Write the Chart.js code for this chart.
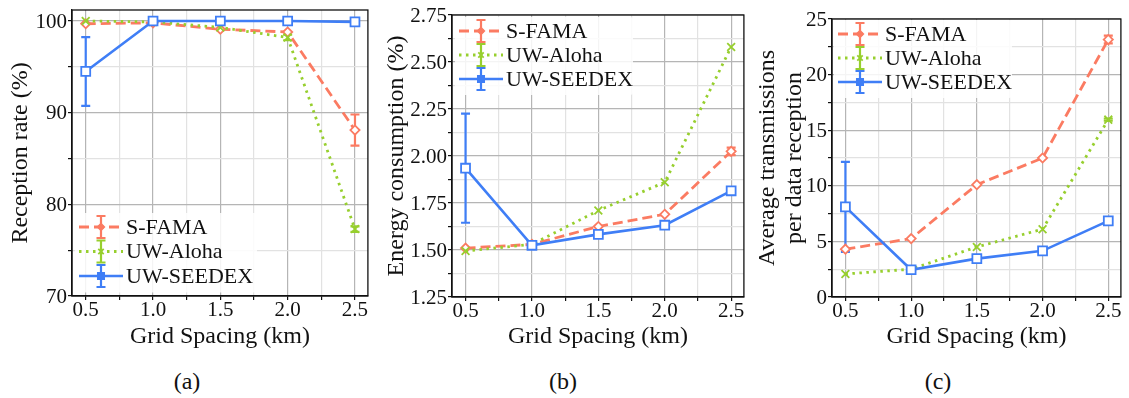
<!DOCTYPE html>
<html>
<head>
<meta charset="utf-8">
<script src="https://cdn.jsdelivr.net/npm/chart.js@4.4.1/dist/chart.umd.min.js"></script>
<style>
  html, body { margin: 0; padding: 0; background: #fff; }
  body { width: 1129px; height: 398px; position: relative; overflow: hidden; font-family: "Liberation Serif", serif; }
  .panel { position: absolute; top: 0; }
  .cap { position: absolute; top: 368px; font-size: 24px; color: #111; transform: translateX(-50%); }
</style>
</head>
<body>
<div class="panel" style="left:0"><canvas id="chartA" width="376" height="360"></canvas></div>
<div class="panel" style="left:376px"><canvas id="chartB" width="376" height="360"></canvas></div>
<div class="panel" style="left:752px"><canvas id="chartC" width="377" height="360"></canvas></div>
<div class="cap" style="left:187px">(a)</div>
<div class="cap" style="left:563px">(b)</div>
<div class="cap" style="left:938px">(c)</div>
<script>
// ---------- data ----------
const gridSpacing = [0.5, 1.0, 1.5, 2.0, 2.5];
const seriesNames = ['S-FAMA', 'UW-Aloha', 'UW-SEEDEX'];

const xMajor = [0.5, 1.0, 1.5, 2.0, 2.5];
const xMinor = [0.75, 1.25, 1.75, 2.25];

// (a) reception rate
const rxFama = [99.7, 99.8, 99.1, 98.8, 88.1];
const rxFamaErr = [0, 0, 0, 0, 1.7];
const rxAloha = [100.0, 99.9, 99.3, 98.2, 77.3];
const rxAlohaErr = [0, 0, 0, 0.3, 0.3];
const rxSeedex = [94.5, 100.0, 100.0, 100.0, 99.9];
const rxSeedexErr = [3.75, 0, 0, 0, 0];
const rxMajor = [70, 80, 90, 100];
const rxMinor = [75, 85, 95];

// (b) energy consumption
const enFama = [1.51, 1.53, 1.625, 1.69, 2.025];
const enFamaErr = [0, 0, 0, 0, 0.02];
const enAloha = [1.495, 1.53, 1.71, 1.86, 2.58];
const enAlohaErr = [0, 0, 0, 0, 0];
const enSeedex = [1.935, 1.525, 1.583, 1.632, 1.815];
const enSeedexErr = [0.29, 0, 0, 0, 0];
const enMajor = [1.25, 1.50, 1.75, 2.00, 2.25, 2.50, 2.75];
const enMinor = [1.375, 1.625, 1.875, 2.125, 2.375, 2.625];

// (c) average transmissions per data reception
const txFama = [4.3, 5.25, 10.1, 12.5, 23.15];
const txFamaErr = [0, 0, 0, 0, 0.35];
const txAloha = [2.07, 2.5, 4.5, 6.1, 15.95];
const txAlohaErr = [0, 0, 0, 0, 0.1];
const txSeedex = [8.1, 2.45, 3.45, 4.15, 6.85];
const txSeedexErr = [4.05, 0, 0, 0, 0];
const txMajor = [0, 5, 10, 15, 20, 25];
const txMinor = [2.5, 7.5, 12.5, 17.5, 22.5];

const xTitle = 'Grid Spacing (km)';

// ---------- styles ----------
const COLORS = { fama: '#fb7b62', aloha: '#97cf2e', seedex: '#3f7ef6' };
const FONT = '"Liberation Serif", serif';
const STYLE = [
  { color: COLORS.fama, dash: [10, 5], width: 2.8, point: 'rectRot', radius: 4.6 },
  { color: COLORS.aloha, dash: [2.5, 4.5], width: 2.8, point: 'crossRot', radius: 5.5 },
  { color: COLORS.seedex, dash: [], width: 2.6, point: 'rect', radius: 6.3 },
];

Chart.defaults.font.family = FONT;
Chart.defaults.color = '#111';

function toPts(ys) {
  return gridSpacing.map((x, i) => ({ x, y: ys[i] }));
}

function makeDataset(i, ys, errs) {
  const s = STYLE[i];
  return {
    label: seriesNames[i],
    data: toPts(ys),
    errors: errs,
    borderColor: s.color,
    borderWidth: s.width,
    borderDash: s.dash,
    pointStyle: s.point,
    pointRadius: s.radius,
    pointBorderWidth: 1.8,
    pointBorderColor: s.color,
    pointBackgroundColor: '#fff',
    fill: false,
    tension: 0,
    order: 3 - i,
  };
}

function tickList(major, minor) {
  return major.map(v => ({ value: v }))
    .concat(minor.map(v => ({ value: v, minor: true })))
    .sort((a, b) => a.value - b.value);
}

// ---------- plugin: error bars, frame, axis text, legend ----------
const decor = {
  id: 'decor',
  beforeDatasetsDraw(chart) {
    const { ctx, scales: { x, y } } = chart;
    chart.data.datasets.forEach(ds => {
      if (!ds.errors) return;
      ctx.save();
      ctx.strokeStyle = ds.borderColor;
      ctx.lineWidth = 2.2;
      ds.data.forEach((p, i) => {
        const e = ds.errors[i];
        if (!e) return;
        const px = x.getPixelForValue(p.x);
        const top = y.getPixelForValue(p.y + e);
        const bot = y.getPixelForValue(p.y - e);
        ctx.beginPath();
        ctx.moveTo(px, top); ctx.lineTo(px, bot);
        ctx.moveTo(px - 4.5, top); ctx.lineTo(px + 4.5, top);
        ctx.moveTo(px - 4.5, bot); ctx.lineTo(px + 4.5, bot);
        ctx.stroke();
      });
      ctx.restore();
    });
  },
  afterDraw(chart, args, opts) {
    const { ctx, chartArea: a, scales: { x, y } } = chart;
    ctx.save();
    ctx.strokeStyle = '#111';
    ctx.lineWidth = 1.3;
    ctx.strokeRect(a.left, a.top, a.right - a.left, a.bottom - a.top);

    // tick labels, placed by the chart's own scales
    ctx.fillStyle = '#111';
    ctx.font = '21px ' + FONT;
    ctx.textAlign = 'center';
    ctx.textBaseline = 'top';
    x.ticks.forEach(t => {
      if (t.minor) return;
      ctx.fillText(t.value.toFixed(1), x.getPixelForValue(t.value), a.bottom + 4);
    });
    ctx.textAlign = 'right';
    ctx.textBaseline = 'middle';
    y.ticks.forEach(t => {
      if (t.minor) return;
      ctx.fillText(opts.fmt(t.value), a.left - 5, y.getPixelForValue(t.value) + 1);
    });

    // axis titles
    ctx.font = '24px ' + FONT;
    ctx.textAlign = 'center';
    ctx.fillText(xTitle, (a.left + a.right) / 2, 337);
    const lines = [].concat(opts.yTitle);
    ctx.save();
    ctx.translate(opts.titleX, (a.top + a.bottom) / 2);
    ctx.rotate(-Math.PI / 2);
    lines.forEach((ln, i) => ctx.fillText(ln, 0, i * 27));
    ctx.restore();

    // legend box
    const L = opts.legend;
    ctx.fillStyle = 'rgba(255,255,255,0.85)';
    ctx.beginPath();
    ctx.roundRect(L.x - 4, L.y - 14, L.w, L.rowH * 3 + 6, 3);
    ctx.fill();

    chart.data.datasets.forEach((ds, i) => {
      const s = STYLE[i];
      const cy = L.y + i * L.rowH;
      const cx = L.x + 22;
      ctx.strokeStyle = s.color;
      ctx.lineWidth = s.width;
      ctx.setLineDash(s.dash);
      ctx.beginPath();
      ctx.moveTo(L.x, cy); ctx.lineTo(L.x + 44, cy);
      ctx.stroke();
      ctx.setLineDash([]);
      ctx.lineWidth = 2.2;
      ctx.beginPath();
      ctx.moveTo(cx, cy - 11); ctx.lineTo(cx, cy + 11);
      ctx.moveTo(cx - 4.5, cy - 11); ctx.lineTo(cx + 4.5, cy - 11);
      ctx.moveTo(cx - 4.5, cy + 11); ctx.lineTo(cx + 4.5, cy + 11);
      ctx.stroke();
      ctx.fillStyle = s.color;
      ctx.lineWidth = 1.8;
      Chart.helpers.drawPoint(ctx, {
        pointStyle: s.point, radius: s.radius * 0.7, borderWidth: 1.8, rotation: 0,
      }, cx, cy);
      ctx.fillStyle = '#111';
      ctx.font = '22px ' + FONT;
      ctx.textAlign = 'left';
      ctx.textBaseline = 'middle';
      ctx.fillText(seriesNames[i], L.x + 47, cy + 1);
    });
    ctx.restore();
  },
};

// ---------- chart builder ----------
function buildChart(id, cfg) {
  const datasets = cfg.series.map((s, i) => makeDataset(i, s[0], s[1]));
  const gridColor = c => (c.tick && c.tick.minor ? '#e2e2e2' : '#b5b5b5');
  return new Chart(document.getElementById(id), {
    type: 'line',
    data: { datasets },
    options: {
      responsive: false,
      animation: false,
      events: [],
      layout: { padding: { top: cfg.top, right: 3, left: 0, bottom: 0 } },
      plugins: {
        legend: { display: false },
        tooltip: { enabled: false },
        decor: { legend: cfg.legend, fmt: cfg.fmt, yTitle: cfg.yTitle, titleX: cfg.titleX },
      },
      scales: {
        x: {
          type: 'linear',
          min: 0.398,
          max: 2.596,
          afterBuildTicks: s => { s.ticks = tickList(xMajor, xMinor); },
          afterFit: s => { s.height = 360 - cfg.bottom; },
          ticks: { display: false, autoSkip: false, maxRotation: 0 },
          grid: { color: gridColor, lineWidth: 1.2, tickLength: 4, tickColor: '#111' },
          border: { color: '#111', width: 1.3 },
        },
        y: {
          type: 'linear',
          min: cfg.yMin,
          max: cfg.yMax,
          afterBuildTicks: s => { s.ticks = tickList(cfg.yMajor, cfg.yMinor); },
          afterFit: s => { s.width = cfg.left; },
          ticks: { display: false, autoSkip: false },
          grid: { color: gridColor, lineWidth: 1.2, tickLength: 4, tickColor: '#111' },
          border: { color: '#111', width: 1.3 },
        },
      },
    },
    plugins: [decor],
  });
}

buildChart('chartA', {
  series: [[rxFama, rxFamaErr], [rxAloha, rxAlohaErr], [rxSeedex, rxSeedexErr]],
  top: 10, bottom: 296, left: 72,
  yMin: 70, yMax: 101.2, yMajor: rxMajor, yMinor: rxMinor,
  fmt: v => String(Math.round(v)),
  yTitle: 'Reception rate (%)', titleX: 21,
  legend: { x: 79, y: 227, rowH: 24.5, w: 182 },
});

buildChart('chartB', {
  series: [[enFama, enFamaErr], [enAloha, enAlohaErr], [enSeedex, enSeedexErr]],
  top: 15, bottom: 297, left: 76,
  yMin: 1.25, yMax: 2.75, yMajor: enMajor, yMinor: enMinor,
  fmt: v => v.toFixed(2),
  yTitle: 'Energy consumption (%)', titleX: 21,
  legend: { x: 83, y: 31, rowH: 24, w: 178 },
});

buildChart('chartC', {
  series: [[txFama, txFamaErr], [txAloha, txAlohaErr], [txSeedex, txSeedexErr]],
  top: 19, bottom: 297, left: 80,
  yMin: 0, yMax: 25, yMajor: txMajor, yMinor: txMinor,
  fmt: v => String(Math.round(v)),
  yTitle: ['Average transmissions', 'per data reception'], titleX: 16,
  legend: { x: 86, y: 34, rowH: 24, w: 178 },
});
</script>
</body>
</html>
